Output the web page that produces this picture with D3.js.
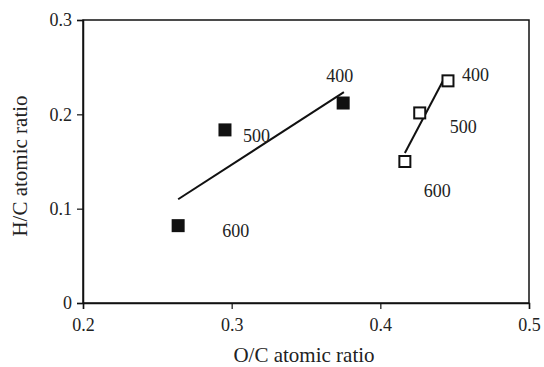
<!DOCTYPE html>
<html>
<head>
<meta charset="utf-8">
<script src="https://cdn.jsdelivr.net/npm/d3@7"></script>
<style>
  body { margin: 0; background: #fff; }
  text { font-family: "Liberation Serif", "Times New Roman", serif; fill: #222; }
</style>
</head>
<body>
<svg id="chart" width="544" height="367"></svg>
<script>
// data
const temps = ['600', '500', '400'];
const filledOC = [0.264, 0.2955, 0.375];
const filledHC = [0.082, 0.1835, 0.212];
const openOC = [0.4165, 0.4265, 0.4455];
const openHC = [0.150, 0.2015, 0.2355];
// fitted trend lines (endpoints)
const filledFitOC = [0.264, 0.3755];
const filledFitHC = [0.110, 0.2235];
const openFitOC = [0.4165, 0.4435];
const openFitHC = [0.159, 0.2395];
const xTicks = [0.2, 0.3, 0.4, 0.5];
const yTicks = [0, 0.1, 0.2, 0.3];

const margin = { top: 20, right: 15, bottom: 64, left: 83 };
const width = 544 - margin.left - margin.right;
const height = 367 - margin.top - margin.bottom;

const svg = d3.select('#chart');
const g = svg.append('g').attr('transform', `translate(${margin.left},${margin.top})`);

const x = d3.scaleLinear().domain([0.2, 0.5]).range([0, width]);
const y = d3.scaleLinear().domain([0, 0.3]).range([height, 0]);

// frame
g.append('rect')
  .attr('width', width)
  .attr('height', height)
  .attr('fill', 'none')
  .attr('stroke', '#111')
  .attr('stroke-width', 1.5);

const fmt = (d) => (d === 0 ? '0' : d3.format('.1f')(d));

const xAxis = g.append('g')
  .attr('transform', `translate(0,${height})`)
  .call(d3.axisBottom(x).tickValues(xTicks).tickFormat(fmt).tickSize(6).tickPadding(9));
const yAxis = g.append('g')
  .call(d3.axisLeft(y).tickValues(yTicks).tickFormat(fmt).tickSize(6).tickPadding(5));

[xAxis, yAxis].forEach((a) => {
  a.select('.domain').attr('stroke', '#111').attr('stroke-width', 1.5);
  a.selectAll('.tick line').attr('stroke', '#111').attr('stroke-width', 1.2);
  a.selectAll('.tick text')
    .attr('font-size', '18px')
    .attr('font-family', '"Liberation Serif", serif')
    .attr('fill', '#222');
});

// axis titles
svg.append('text')
  .attr('x', 304)
  .attr('y', 362)
  .attr('text-anchor', 'middle')
  .attr('font-size', '21px')
  .text('O/C atomic ratio');

svg.append('text')
  .attr('transform', 'translate(27,166) rotate(-90)')
  .attr('text-anchor', 'middle')
  .attr('font-size', '21px')
  .text('H/C atomic ratio');

// trend lines
const line = d3.line().x((d) => x(d[0])).y((d) => y(d[1]));
g.append('path')
  .datum(d3.zip(filledFitOC, filledFitHC))
  .attr('d', line)
  .attr('fill', 'none')
  .attr('stroke', '#111')
  .attr('stroke-width', 2);
g.append('path')
  .datum(d3.zip(openFitOC, openFitHC))
  .attr('d', line)
  .attr('fill', 'none')
  .attr('stroke', '#111')
  .attr('stroke-width', 2);

// markers
const filled = d3.zip(filledOC, filledHC, temps);
const open = d3.zip(openOC, openHC, temps);

const fs = 13;
g.selectAll('rect.filled')
  .data(filled)
  .join('rect')
  .attr('class', 'filled')
  .attr('x', (d) => x(d[0]) - fs / 2)
  .attr('y', (d) => y(d[1]) - fs / 2)
  .attr('width', fs)
  .attr('height', fs)
  .attr('fill', '#111');

const os = 11;
g.selectAll('rect.open')
  .data(open)
  .join('rect')
  .attr('class', 'open')
  .attr('x', (d) => x(d[0]) - os / 2)
  .attr('y', (d) => y(d[1]) - os / 2)
  .attr('width', os)
  .attr('height', os)
  .attr('fill', '#fff')
  .attr('stroke', '#111')
  .attr('stroke-width', 2);

// temperature labels, offset from their points
const filledOff = [[44, 11], [18, 12], [-17, -21]];
const openOff = [[19, 35], [30, 20], [14, 0]];

g.selectAll('text.flab')
  .data(filled)
  .join('text')
  .attr('class', 'flab')
  .attr('x', (d, i) => x(d[0]) + filledOff[i][0])
  .attr('y', (d, i) => y(d[1]) + filledOff[i][1])
  .attr('font-size', '18px')
  .text((d) => d[2]);

g.selectAll('text.olab')
  .data(open)
  .join('text')
  .attr('class', 'olab')
  .attr('x', (d, i) => x(d[0]) + openOff[i][0])
  .attr('y', (d, i) => y(d[1]) + openOff[i][1])
  .attr('font-size', '18px')
  .text((d) => d[2]);
</script>
</body>
</html>
